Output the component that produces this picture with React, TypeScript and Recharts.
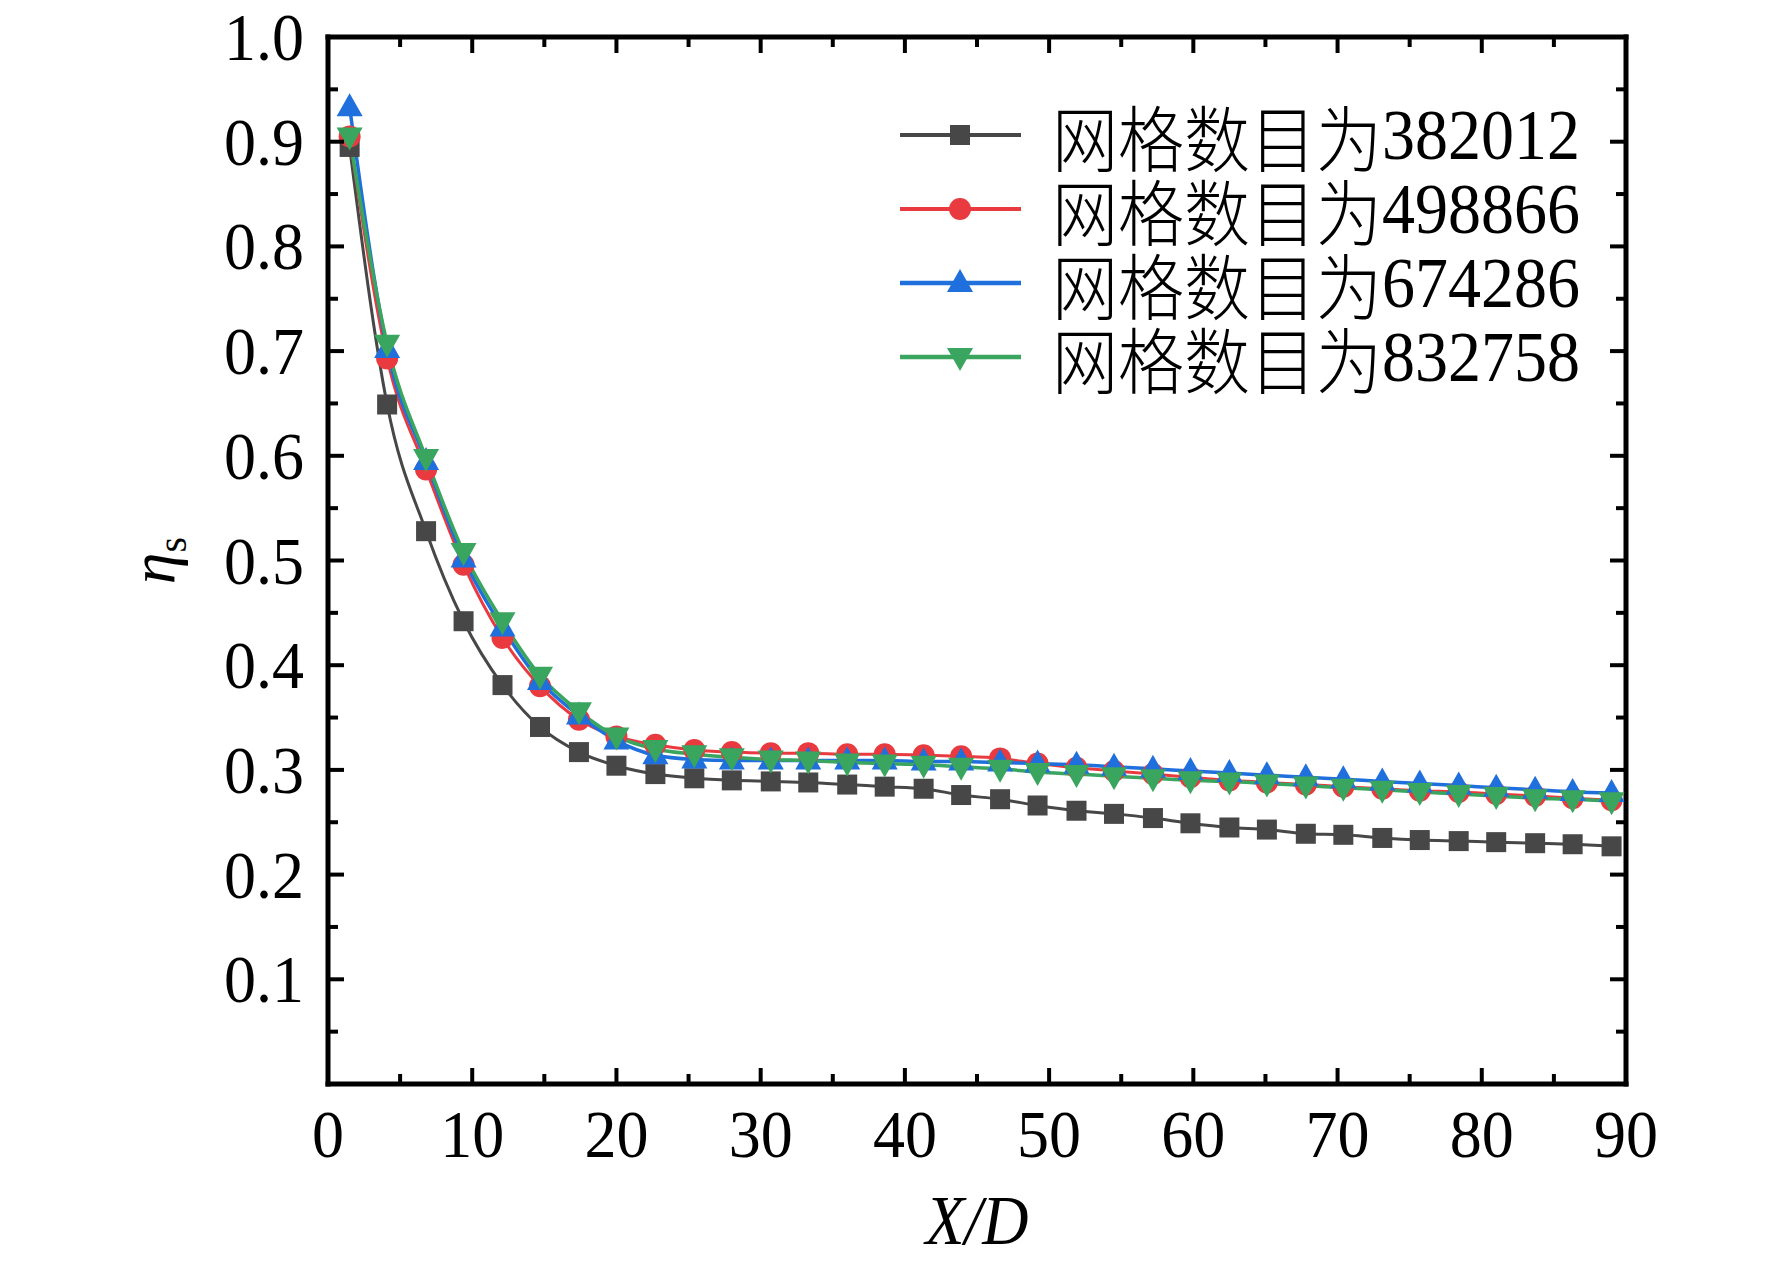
import { LineChart, Line, XAxis, YAxis, Legend } from 'recharts';

const X_VALUES = [
  1.5, 4.1, 6.8, 9.4, 12.1, 14.7, 17.4, 20.0, 22.7, 25.4, 28.0, 30.7, 33.3, 36.0, 38.6, 41.3, 43.9,
  46.6, 49.2, 51.9, 54.5, 57.2, 59.8, 62.5, 65.1, 67.8, 70.4, 73.1, 75.7, 78.4, 81.0, 83.7, 86.3, 89.0,
];

const MESH_382012 = [
  0.895, 0.649, 0.528, 0.442, 0.381, 0.341, 0.317, 0.304, 0.296, 0.292, 0.290, 0.289, 0.288, 0.286,
  0.284, 0.282, 0.276, 0.272, 0.266, 0.261, 0.258, 0.254, 0.249, 0.245, 0.243, 0.239, 0.238, 0.235,
  0.233, 0.232, 0.231, 0.230, 0.229, 0.227,
];
const MESH_498866 = [
  0.905, 0.693, 0.587, 0.496, 0.426, 0.380, 0.348, 0.332, 0.324, 0.319, 0.317, 0.316, 0.316, 0.315,
  0.315, 0.314, 0.313, 0.311, 0.306, 0.302, 0.299, 0.296, 0.293, 0.290, 0.288, 0.286, 0.284, 0.282,
  0.280, 0.279, 0.277, 0.275, 0.273, 0.271,
];
const MESH_674286 = [
  0.933, 0.702, 0.595, 0.502, 0.436, 0.385, 0.352, 0.328, 0.314, 0.310, 0.309, 0.309, 0.309, 0.309,
  0.309, 0.308, 0.308, 0.307, 0.306, 0.305, 0.303, 0.301, 0.299, 0.297, 0.295, 0.293, 0.291, 0.289,
  0.287, 0.285, 0.283, 0.281, 0.279, 0.278,
];
const MESH_832758 = [
  0.905, 0.707, 0.598, 0.508, 0.442, 0.390, 0.356, 0.332, 0.320, 0.315, 0.312, 0.310, 0.309, 0.307,
  0.306, 0.305, 0.303, 0.301, 0.298, 0.296, 0.294, 0.292, 0.290, 0.289, 0.287, 0.285, 0.283, 0.281,
  0.279, 0.277, 0.275, 0.273, 0.272, 0.270,
];

const X_TICKS = [0, 5, 10, 15, 20, 25, 30, 35, 40, 45, 50, 55, 60, 65, 70, 75, 80, 85, 90];
const Y_TICKS = [
  0, 0.05, 0.1, 0.15, 0.2, 0.25, 0.3, 0.35, 0.4, 0.45, 0.5, 0.55, 0.6, 0.65, 0.7, 0.75, 0.8, 0.85,
  0.9, 0.95, 1.0,
];

type Shape = 'square' | 'circle' | 'up' | 'down';

const LEGEND_PREFIX = '网格数目为';
const SERIES: { key: string; count: string; color: string; shape: Shape; width: number }[] = [
  { key: 'm1', count: '382012', color: '#474747', shape: 'square', width: 3 },
  { key: 'm2', count: '498866', color: '#e83a3f', shape: 'circle', width: 3 },
  { key: 'm3', count: '674286', color: '#1f6fdc', shape: 'up', width: 3.5 },
  { key: 'm4', count: '832758', color: '#3aa55f', shape: 'down', width: 3.5 },
];

const data = X_VALUES.map((x, i) => ({
  x,
  m1: MESH_382012[i],
  m2: MESH_498866[i],
  m3: MESH_674286[i],
  m4: MESH_832758[i],
}));

const SERIF = '"Liberation Serif", "Times New Roman", serif';
const TICK_FONT = 64;
const STRETCH = 1.05;
const MAJOR = 16;
const MINOR = 10;

function Marker({ cx, cy, shape, color }: { cx: number; cy: number; shape: Shape; color: string }) {
  if (cx == null || cy == null) return null;
  if (shape === 'square') return <rect x={cx - 10} y={cy - 10} width={20} height={20} fill={color} />;
  if (shape === 'circle') return <circle cx={cx} cy={cy} r={11} fill={color} />;
  if (shape === 'up')
    return <polygon points={`${cx},${cy - 14} ${cx + 13},${cy + 9} ${cx - 13},${cy + 9}`} fill={color} />;
  return <polygon points={`${cx},${cy + 14} ${cx + 13},${cy - 9} ${cx - 13},${cy - 9}`} fill={color} />;
}

const isMajorX = (v: number) => v % 10 === 0;
const isMajorY = (v: number) => Math.round(v * 100) % 10 === 0;

function TickText({ x, y, anchor, children }: { x: number; y: number; anchor: string; children: any }) {
  return (
    <text
      transform={`translate(${x} ${y}) scale(1 ${STRETCH})`}
      textAnchor={anchor}
      fontFamily={SERIF}
      fontSize={TICK_FONT}
      fill="#000"
    >
      {children}
    </text>
  );
}

function BottomTick(props: any) {
  const { x, y, payload } = props;
  const major = isMajorX(payload.value);
  return (
    <g>
      <line x1={x} x2={x} y1={y} y2={y - (major ? MAJOR : MINOR)} stroke="#000" strokeWidth={4} />
      {major && (
        <TickText x={x} y={y + 73} anchor="middle">
          {payload.value}
        </TickText>
      )}
    </g>
  );
}

function TopTick(props: any) {
  const { x, y, payload } = props;
  const major = isMajorX(payload.value);
  return <line x1={x} x2={x} y1={y} y2={y + (major ? MAJOR : MINOR)} stroke="#000" strokeWidth={4} />;
}

function LeftTick(props: any) {
  const { x, y, payload } = props;
  const v = payload.value as number;
  const major = isMajorY(v);
  return (
    <g>
      <line x1={x} x2={x + (major ? MAJOR : MINOR)} y1={y} y2={y} stroke="#000" strokeWidth={4} />
      {major && v > 0 && (
        <TickText x={x - 24} y={y + 23} anchor="end">
          {v.toFixed(1)}
        </TickText>
      )}
    </g>
  );
}

function RightTick(props: any) {
  const { x, y, payload } = props;
  const major = isMajorY(payload.value);
  return <line x1={x} x2={x - (major ? MAJOR : MINOR)} y1={y} y2={y} stroke="#000" strokeWidth={4} />;
}

function LegendIcon({ shape, color, width }: { shape: Shape; color: string; width: number }) {
  return (
    <svg width={121} height={40} style={{ display: 'block' }}>
      <line x1={0} x2={121} y1={20} y2={20} stroke={color} strokeWidth={width + 1} />
      <Marker cx={60} cy={20} shape={shape} color={color} />
    </svg>
  );
}

const legendText = { display: 'inline-block', lineHeight: '62px', height: 62, verticalAlign: 'top' };

function renderLegend() {
  return (
    <div style={{ display: 'flex', flexDirection: 'column' }}>
      {SERIES.map((s) => (
        <div key={s.key} style={{ display: 'flex', alignItems: 'center', height: 74 }}>
          <LegendIcon shape={s.shape} color={s.color} width={s.width} />
          <div
            style={{
              marginLeft: 31,
              fontSize: 66,
              height: 62,
              color: '#000',
              whiteSpace: 'nowrap',
              transform: 'scaleY(1.08)',
            }}
          >
            <span style={{ ...legendText, fontFamily: '"Noto Sans CJK SC", sans-serif', fontWeight: 300 }}>
              {LEGEND_PREFIX}
            </span>
            <span style={{ ...legendText, fontFamily: SERIF }}>{s.count}</span>
          </div>
        </div>
      ))}
    </div>
  );
}

const axisLine = { stroke: '#000', strokeWidth: 5, strokeLinecap: 'square' as const };

export default function App() {
  return (
    <div style={{ position: 'absolute', left: 0, top: 0, width: 1772, height: 1267, background: '#fff' }}>
      <LineChart width={1772} height={1267} data={data} margin={{ top: 36, right: 145, left: 0, bottom: 0 }}>
        <XAxis
          dataKey="x"
          type="number"
          domain={[0, 90]}
          ticks={X_TICKS}
          interval={0}
          height={183}
          tickSize={0}
          tickMargin={0}
          tickLine={false}
          axisLine={axisLine}
          tick={BottomTick}
          allowDataOverflow
          label={(p: any) => {
            const vb = p.viewBox;
            return (
              <text
                transform={`translate(${vb.x + vb.width / 2} ${vb.y + 160}) scale(1 1.1)`}
                textAnchor="middle"
                fontFamily={SERIF}
                fontStyle="italic"
                fontSize={64}
                fill="#000"
              >
                X/D
              </text>
            );
          }}
        />
        <XAxis
          xAxisId="top"
          orientation="top"
          dataKey="x"
          type="number"
          domain={[0, 90]}
          ticks={X_TICKS}
          interval={0}
          height={1}
          tickSize={0}
          tickMargin={0}
          tickLine={false}
          axisLine={axisLine}
          tick={TopTick}
          allowDataOverflow
        />
        <YAxis
          type="number"
          domain={[0, 1]}
          ticks={Y_TICKS}
          interval={0}
          width={328}
          tickSize={0}
          tickMargin={0}
          tickLine={false}
          axisLine={axisLine}
          tick={LeftTick}
          allowDataOverflow
          label={(p: any) => {
            const vb = p.viewBox;
            const cx = 160;
            const cy = vb.y + vb.height / 2;
            return (
              <text
                transform={`rotate(-90 ${cx} ${cy})`}
                x={cx}
                y={cy + 14}
                textAnchor="middle"
                fontFamily={SERIF}
                fontSize={64}
                fill="#000"
              >
                <tspan fontStyle="italic">η</tspan>
                <tspan fontSize={40} dy={12}>
                  s
                </tspan>
              </text>
            );
          }}
        />
        <YAxis
          yAxisId="right"
          orientation="right"
          type="number"
          domain={[0, 1]}
          ticks={Y_TICKS}
          interval={0}
          width={1}
          tickSize={0}
          tickMargin={0}
          tickLine={false}
          axisLine={axisLine}
          tick={RightTick}
          allowDataOverflow
        />
        <Legend
          layout="horizontal"
          verticalAlign="middle"
          align="center"
          content={renderLegend}
          wrapperStyle={{ position: 'absolute', left: 900, top: 98, width: 'auto' }}
        />
        {SERIES.map((s) => (
          <Line
            key={s.key}
            type="monotone"
            dataKey={s.key}
            name={LEGEND_PREFIX + s.count}
            stroke={s.color}
            strokeWidth={s.width}
            isAnimationActive={false}
            dot={(p: any) => <Marker key={`${s.key}-${p.index}`} cx={p.cx} cy={p.cy} shape={s.shape} color={s.color} />}
            activeDot={false}
          />
        ))}
      </LineChart>
    </div>
  );
}
